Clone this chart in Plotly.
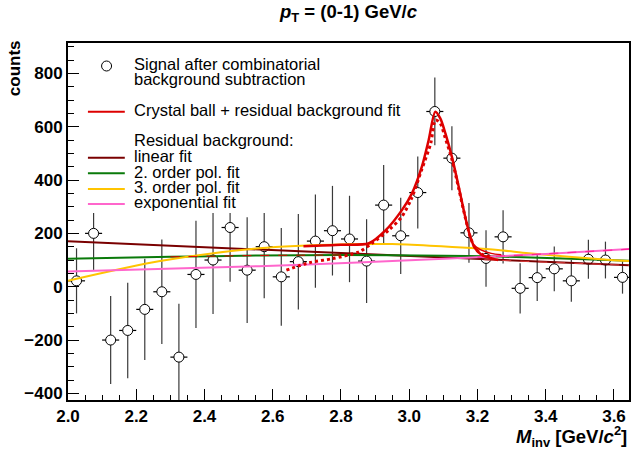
import plotly.graph_objects as go

# ---------------- data ----------------
mass = [2.025, 2.075, 2.125, 2.175, 2.225, 2.275, 2.325, 2.375, 2.425, 2.475,
        2.525, 2.575, 2.625, 2.675, 2.725, 2.775, 2.825, 2.875, 2.925, 2.975,
        3.025, 3.075, 3.125, 3.175, 3.225, 3.275, 3.325, 3.375, 3.425, 3.475,
        3.525, 3.575, 3.625]
counts = [22, 200, -200, -164, -85, -19, -264, 46, 100, 222,
          62, 150, 37, 94, 171, 210, 179, 96, 306, 191,
          353, 657, 482, 202, 106, 187, -6, 34, 67, 22,
          103, 100, 35]
count_err = [122, 137, 165, 179, 190, 196, 200, 201, 202, 203,
             198, 193, 183, 179, 175, 168, 162, 157, 150, 143,
             135, 127, 120, 112, 106, 100, 94, 88, 84, 78,
             73, 69, 61]
bin_half = [0.025] * len(mass)

# fit curves
lin_m = [2.0, 3.645]
lin_v = [170, 80]

pol2_m = [2.0, 2.3, 2.56, 2.8, 3.1, 3.26, 3.45, 3.645]
pol2_v = [105, 112, 117, 119, 116, 113, 106, 97]

pol3_m = [2.0, 2.27, 2.56, 2.82, 2.95, 3.06, 3.26, 3.35, 3.59, 3.645]
pol3_v = [22, 96, 144, 159, 160, 154, 138, 125, 100, 96]

expo_m = [2.0, 2.56, 2.85, 3.12, 3.4, 3.645]
expo_v = [57, 77, 91, 106, 123, 141]

# Crystal ball + background totals
cb_m = [2.69, 2.80, 2.882, 2.931, 2.979, 3.008, 3.037, 3.057, 3.0765, 3.091,
        3.106, 3.125, 3.145, 3.164, 3.179, 3.193, 3.213, 3.242, 3.261]
cb_v = [152, 157, 163, 212, 288, 350, 450, 550, 656, 631,
        575, 487, 375, 262, 187, 144, 119, 106, 100]

cbexp_m = [2.64, 2.707, 2.774, 2.853, 2.891, 2.940, 2.978, 3.007, 3.036, 3.063,
           3.077, 3.09, 3.105, 3.125, 3.145, 3.165, 3.18, 3.195, 3.215, 3.24]
cbexp_v = [62, 90, 105, 131, 163, 212, 262, 332, 437, 538,
           625, 615, 560, 478, 368, 255, 182, 142, 120, 112]

# dashed continuation of the totals along the backgrounds
tail_pol2_m = [2.3, 2.56, 2.8]
tail_pol2_v = [112, 117, 119]
tail_lin_m = [3.22, 3.645]
tail_lin_v = [101, 80]
tail_exp_m = [3.2, 3.4, 3.645]
tail_exp_v = [111, 123, 141]
cbpol3_tail_m = [3.185, 3.21, 3.24, 3.27]
cbpol3_tail_v = [160, 138, 125, 120]

# ---------------- styling ----------------
FONT = "Liberation Sans, Arial, Helvetica, sans-serif"
W, H = 633, 450
ML, MR, MT, MB = 68, 2, 43, 50
PW, PH = W - ML - MR, H - MT - MB

C_RED = "#dd0000"
C_LIN = "#7a0000"
C_POL2 = "#0a7a0a"
C_POL3 = "#ffc400"
C_EXP = "#ff66cc"


def px(x):
    return (x - ML) / PW


def py(y):
    return (MT + PH - y) / PH


fig = go.Figure()

fig.add_trace(go.Scatter(
    x=mass, y=counts, mode="markers",
    marker=dict(symbol="circle", size=10, color="white",
                line=dict(color="black", width=1)),
    error_y=dict(type="data", array=count_err, width=0, thickness=1.2, color="#3a3a3a"),
    error_x=dict(type="data", array=bin_half, width=0, thickness=1.2, color="black"),
    showlegend=False, hoverinfo="skip"))

for xs, ys, col, w, dash in [
    (lin_m, lin_v, C_LIN, 2, "solid"),
    (pol2_m, pol2_v, C_POL2, 2, "solid"),
    (pol3_m, pol3_v, C_POL3, 2, "solid"),
    (expo_m, expo_v, C_EXP, 2, "solid"),
    (tail_pol2_m, tail_pol2_v, C_RED, 1, "dash"),
    (tail_lin_m, tail_lin_v, "#e04040", 1, "dash"),
    (tail_exp_m, tail_exp_v, "#ff2299", 1.2, "dash"),
    (cbpol3_tail_m, cbpol3_tail_v, C_RED, 1.5, "solid"),
    (cb_m, cb_v, C_RED, 2.5, "solid"),
    (cbexp_m, cbexp_v, C_RED, 3, "dot"),
]:
    fig.add_trace(go.Scatter(x=xs, y=ys, mode="lines",
                             line=dict(color=col, width=w, dash=dash,
                                       shape="spline", smoothing=0.8),
                             showlegend=False, hoverinfo="skip"))

shapes = []
annotations = []

# legend box (white, covers data beneath as in the reference)
shapes.append(dict(type="rect", xref="paper", yref="paper", layer="above",
                   x0=px(80), x1=px(308), y0=py(213), y1=py(46),
                   fillcolor="white", line=dict(width=0)))
# legend marker
shapes.append(dict(type="circle", xref="paper", yref="paper", layer="above",
                   xsizemode="pixel", ysizemode="pixel",
                   xanchor=px(106.7), yanchor=py(66),
                   x0=-5, x1=5, y0=-5, y1=5,
                   fillcolor="white", line=dict(color="black", width=1)))
for yy, col in [(111.7, C_RED), (157.7, C_LIN), (173.3, C_POL2),
                (189, C_POL3), (204, C_EXP)]:
    shapes.append(dict(type="line", xref="paper", yref="paper", layer="above",
                       x0=px(88), x1=px(125), y0=py(yy), y1=py(yy),
                       line=dict(color=col, width=2)))

legend_texts = [
    (64.3, "Signal after combinatorial"),
    (79.3, "background subtraction"),
    (110, "Crystal ball + residual background fit"),
    (140, "Residual background:"),
    (156, "linear fit"),
    (171.7, "2. order pol. fit"),
    (186.7, "3. order pol. fit"),
    (201.7, "exponential fit"),
]
for yy, t in legend_texts:
    annotations.append(dict(text=t, xref="paper", yref="paper",
                            x=px(132), y=py(yy), xanchor="left", yanchor="middle",
                            showarrow=False,
                            font=dict(family=FONT, size=16.5, color="black")))

# title
annotations.append(dict(text="<b><i>p</i><sub>T</sub> = (0-1) GeV/<i>c</i></b>",
                        xref="paper", yref="paper", x=0.5, y=py(13),
                        xanchor="center", yanchor="middle", showarrow=False,
                        font=dict(family=FONT, size=18.5, color="black")))
# y title
annotations.append(dict(text="<b>counts</b>", xref="paper", yref="paper",
                        x=px(15), y=py(68), xanchor="center", yanchor="middle",
                        textangle=-90, showarrow=False,
                        font=dict(family=FONT, size=17, color="black")))
# x title
annotations.append(dict(text="<b><i>M</i><sub>inv</sub> [GeV/<i>c</i><sup>2</sup>]</b>",
                        xref="paper", yref="paper", x=1.0, y=py(436),
                        xanchor="right", yanchor="middle", showarrow=False,
                        font=dict(family=FONT, size=18.5, color="black")))

fig.update_layout(
    width=W, height=H,
    margin=dict(l=ML, r=MR, t=MT, b=MB, pad=0),
    paper_bgcolor="white", plot_bgcolor="white",
    shapes=shapes, annotations=annotations,
    showlegend=False,
    font=dict(family=FONT, color="black"),
)
fig.update_xaxes(
    range=[2.0, 3.644], tick0=2.0, dtick=0.2, tickformat=".1f",
    ticks="inside", ticklen=11, tickwidth=1, tickcolor="black",
    minor=dict(dtick=0.05, ticks="inside", ticklen=5.5, tickcolor="black", tickwidth=1),
    showline=True, linecolor="black", linewidth=2, mirror=True,
    showgrid=False, zeroline=False,
    tickfont=dict(family=FONT, size=17, color="black", weight="bold"),
)
fig.update_yaxes(
    range=[-424.8, 913.8], tick0=0, dtick=200,
    ticks="inside", ticklen=11, tickwidth=1, tickcolor="black",
    minor=dict(dtick=50, ticks="inside", ticklen=6, tickcolor="black", tickwidth=1),
    showline=True, linecolor="black", linewidth=2, mirror=True,
    showgrid=False, zeroline=False,
    tickfont=dict(family=FONT, size=17, color="black", weight="bold"),
)

fig.write_html("out.html")
